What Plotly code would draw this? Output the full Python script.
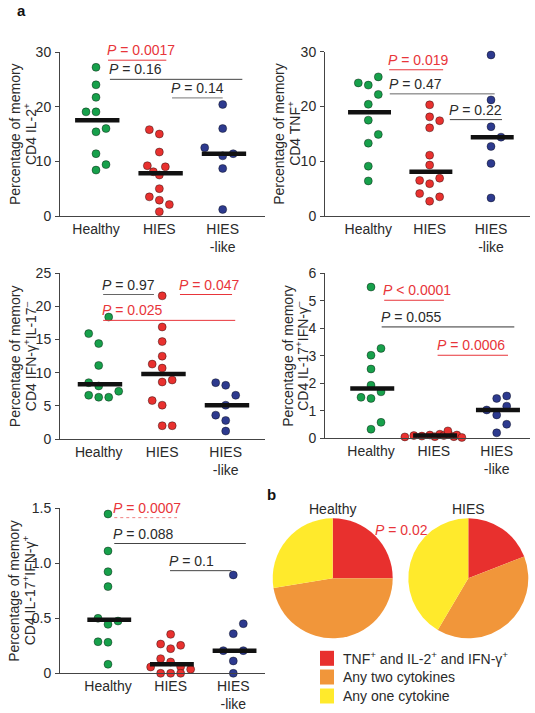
import numpy as np
import plotly.graph_objects as go

W, H = 535, 713

# ---------------- data ----------------
groups = ["Healthy", "HIES", "HIES-like"]
tick_text = ["Healthy", "HIES", "HIES<br>-like"]
dot_colors = ["#17A04B", "#E8312F", "#2D3A8E"]

# Panel 1: CD4 IL-2+
il2_healthy = [27.2, 24.0, 21.7, 19.05, 19.05, 15.4, 16.0, 11.4, 8.4, 9.4]
il2_hies = [15.8, 15.0, 11.7, 9.2, 9.0, 8.1, 7.5, 5.0, 3.5, 2.9, 2.1, 0.8]
il2_like = [20.4, 16.0, 12.5, 11.0, 11.4, 8.7, 1.2]
# Panel 2: CD4 TNF+
tnf_healthy = [24.3, 23.9, 25.4, 22.2, 20.4, 17.5, 14.9, 13.3, 9.1, 6.4]
tnf_hies = [20.3, 18.1, 16.1, 17.4, 11.1, 9.3, 6.5, 5.9, 6.9, 4.1, 2.7, 3.5]
tnf_like = [29.4, 21.2, 16.3, 12.7, 14.4, 9.6, 3.3]
# Panel 3: CD4 IFN-g+ IL-17-
ifng_healthy = [18.4, 15.9, 14.4, 11.1, 8.5, 8.0, 6.6, 6.3, 6.3, 7.2]
ifng_hies = [21.6, 16.9, 14.7, 12.5, 11.3, 10.7, 8.6, 8.9, 5.8, 5.1, 2.0, 2.0]
ifng_like = [8.5, 8.1, 6.6, 5.1, 3.6, 2.8, 1.2]
# Panel 4: CD4 IL-17+ IFN-g-
il17_healthy = [5.50, 3.02, 3.27, 2.52, 1.93, 1.49, 1.45, 1.69, 0.33, 0.58]
il17_hies = [0.05, 0.10, 0.08, 0.12, 0.06, 0.15, 0.10, 0.14, 0.06, 0.27, 0.12, 0.03]
il17_like = [1.45, 1.54, 1.17, 1.03, 0.85, 0.51, 0.20]
# Panel 5: CD4 IL-17+ IFN-g+
dp_healthy = [1.448, 1.112, 0.924, 0.788, 0.50, 0.445, 0.475, 0.287, 0.282, 0.082]
dp_hies = [0.354, 0.266, 0.254, 0.224, 0.133, 0.103, 0.057, 0.06, 0.036, 0.0, 0.0, 0.0]
dp_like = [0.894, 0.451, 0.36, 0.206, 0.206, 0.112, 0.0]

# P values
p_il2 = ["0.0017", "0.16", "0.14"]
p_tnf = ["0.019", "0.47", "0.22"]
p_ifng = ["0.97", "0.047", "0.025"]
p_il17 = ["< 0.0001", "0.055", "0.0006"]
p_dp = ["0.0007", "0.088", "0.1"]
p_pie = "0.02"

# Pie (panel b)
pie_labels = ["TNF<sup>+</sup> and IL-2<sup>+</sup> and IFN-γ<sup>+</sup>",
              "Any two cytokines", "Any one cytokine"]
pie_healthy = [25.0, 47.4, 27.6]
pie_hies = [19.1, 39.4, 41.5]
pie_colors = ["#E8302E", "#F1963A", "#FFEA2C"]

# ---------------- layout helpers (beeswarm offsets in dot widths) ----------------
il2_jit = [[0, 0, 0, -1, 0, 0, 1, 0, 0, 1],
           [-1, 0, 0, -1.2, 0.6, -0.6, 0, 0, -1, 0, 1, 0],
           [0, 0, -1.8, 0, 1.05, 0, 0]]
tnf_jit = [[-1, 0, 1, 1, 0, 0, 1, 0, 0, 0],
           [0, 0, 0, 1, 0, 0, -1, 0, 1, -1, 0, 1],
           [0, 0, 0, 0, 1, 0, 0]]
ifng_jit = [[1, -1, 0, 0, -1, 0, -1, 0, 1, 2],
            [0, 0, 0, 0, -1, 0, 0, 1, -1, 0, 0, 1],
            [-1, 0, 1, 0, -1, 0, 0]]
il17_jit = [[0, 0, 1, 0, 0, -1, 0, 1, 0, 1],
            [-2.9, -2, -1.2, -0.4, 0.1, 0.6, 1.0, 1.5, 2.0, 1.4, 2.3, 2.8],
            [0, 1, 1, -1, 0, 1, 0]]
dp_jit = [[0, 0, 0, 0, -1, 0, 1, -1, 0, 0],
          [0, -1, 1, 0, -1, 0, -2, 1, 2, -1, 0, 1],
          [0, 1, 0, -1, 1, 0, 0]]

RED = "#E8353A"
TXT = "#2a2a2a"
FONT = "Liberation Sans, Arial, Helvetica, sans-serif"
DOT_PITCH = 10.0  # px between neighbouring dots

panels = [
    dict(n="", vals=[il2_healthy, il2_hies, il2_like], jit=il2_jit,
         px=(60, 265, 96, 63.35), py=(216, 52), vmax=30, ticks=[0, 10, 20, 30],
         ticklab=["0", "10", "20", "30"], title="CD4 IL-2<sup>+</sup>", tx=(15, 30),
         pv=p_il2,
         br=[(0.19, 1.11, 28.5, RED, RED, "solid"), (0.22, 2.31, 25.0, TXT, "#444", "solid"),
             (1.20, 2.00, 21.6, TXT, "#777", "solid")]),
    dict(n="2", vals=[tnf_healthy, tnf_hies, tnf_like], jit=tnf_jit,
         px=(325, 530, 368.3, 61.35), py=(216, 51.7), vmax=30, ticks=[0, 10, 20, 30],
         ticklab=["0", "10", "20", "30"], title="CD4 TNF<sup>+</sup>", tx=(279, 294),
         pv=p_tnf,
         br=[(0.34, 1.22, 26.7, RED, RED, "solid"), (0.35, 2.06, 22.3, TXT, "#666", "solid"),
             (1.33, 2.18, 17.6, TXT, "#444", "solid")]),
    dict(n="3", vals=[ifng_healthy, ifng_hies, ifng_like], jit=ifng_jit,
         px=(60, 265, 98.7, 63.5), py=(439, 273.3), vmax=25, ticks=[0, 5, 10, 15, 20, 25],
         ticklab=["0", "5", "10", "15", "20", "25"],
         title="CD4 IFN-γ<sup>+</sup>IL-17<sup>–</sup>", tx=(15, 30),
         pv=p_ifng,
         br=[(0.07, 0.87, 21.8, TXT, "#666", "solid"), (1.28, 2.10, 21.8, RED, RED, "solid"),
             (0.07, 2.15, 17.9, RED, RED, "solid")]),
    dict(n="4", vals=[il17_healthy, il17_hies, il17_like], jit=il17_jit,
         px=(325, 530, 371, 62.85), py=(438.3, 273.3), vmax=6, ticks=[0, 1, 2, 3, 4, 5, 6],
         ticklab=["0", "1", "2", "3", "4", "5", "6"],
         title="CD4 IL-17<sup>+</sup>IFN-γ<sup>–</sup>", tx=(288, 302),
         pv=p_il17,
         br=[(0.21, 1.16, 5.02, RED, RED, "solid"), (0.17, 2.28, 4.05, TXT, "#333", "solid"),
             (1.06, 2.18, 3.02, RED, RED, "solid")]),
    dict(n="5", vals=[dp_healthy, dp_hies, dp_like], jit=dp_jit,
         px=(60, 265, 108, 62.65), py=(673.3, 508.3), vmax=1.5, ticks=[0, 0.5, 1.0, 1.5],
         ticklab=["0", "0.5", "1.0", "1.5"],
         title="CD4 IL-17<sup>+</sup>IFN-γ<sup>+</sup>", tx=(14, 28.5),
         pv=p_dp,
         br=[(0.10, 1.10, 1.415, RED, "#F08080", "dot"), (0.10, 2.20, 1.18, TXT, "#444", "solid"),
             (0.99, 1.97, 0.933, TXT, "#444", "solid")]),
]

fig = go.Figure()
shapes = []
annotations = []
layout = {}

for p in panels:
    n = p["n"]
    xa, ya = "x" + n, "y" + n
    px0, px1, c0, s = p["px"]
    pyb, pyt = p["py"]
    layout["xaxis" + n] = dict(
        domain=[px0 / W, px1 / W], range=[(px0 - c0) / s, (px1 - c0) / s],
        anchor=ya, showline=True, linecolor="#444", linewidth=1, ticks="",
        tickvals=[0, 1, 2], ticktext=tick_text, showgrid=False, zeroline=False,
        tickfont=dict(size=14, color=TXT), fixedrange=True, automargin=False)
    layout["yaxis" + n] = dict(
        domain=[1 - pyb / H, 1 - pyt / H], range=[0, p["vmax"]], anchor=xa,
        showline=True, linecolor="#444", linewidth=1, ticks="outside", ticklen=4,
        tickcolor="#444", tickvals=p["ticks"], ticktext=p["ticklab"], showgrid=False,
        zeroline=False, tickfont=dict(size=14, color=TXT), ticklabelstandoff=1,
        fixedrange=True, automargin=False)
    for i, (vals, jit) in enumerate(zip(p["vals"], p["jit"])):
        xs = i + np.array(jit) * DOT_PITCH / s
        fig.add_trace(go.Scatter(
            x=xs, y=vals, xaxis=xa, yaxis=ya, mode="markers", cliponaxis=False,
            marker=dict(size=8, color=dot_colors[i], line=dict(width=0.7, color="rgba(0,0,0,0.55)")),
            name=groups[i], showlegend=False))
    for i, vals in enumerate(p["vals"]):
        med = float(np.median(vals))
        fig.add_trace(go.Scatter(
            x=[i - 0.33, i + 0.37], y=[med, med], xaxis=xa, yaxis=ya, mode="lines",
            cliponaxis=False, line=dict(color="#111", width=4.5), showlegend=False,
            hoverinfo="skip"))
    # P-value brackets
    for (x0, x1, yv, tcol, lcol, dash), txt in zip(p["br"], p["pv"]):
        shapes.append(dict(type="line", xref=xa, yref=ya, x0=x0, x1=x1, y0=yv, y1=yv,
                           line=dict(color=lcol, width=1, dash=dash)))
        annotations.append(dict(xref=xa, yref=ya, x=x0, y=yv, xanchor="left",
                                yanchor="bottom", showarrow=False, xshift=-3,
                                text="<i>P</i> " + (txt if txt.startswith("<") else "= " + txt),
                                font=dict(size=14, color=tcol)))
    # y-axis titles (two lines)
    ymid = 1 - ((pyb + pyt) / 2) / H
    for xx, t in zip(p["tx"], ["Percentage of memory", p["title"]]):
        annotations.append(dict(xref="paper", yref="paper", x=xx / W, y=ymid,
                                xanchor="center", yanchor="middle", textangle=-90,
                                showarrow=False, text=t, font=dict(size=14, color=TXT)))

# ---------------- pies ----------------
for vals, cx, name in [(pie_healthy, 332.7, "Healthy"), (pie_hies, 468.3, "HIES")]:
    cy, r = 578.3, 60
    fig.add_trace(go.Pie(
        values=vals, labels=pie_labels, sort=False, direction="clockwise", rotation=0,
        marker=dict(colors=pie_colors, line=dict(width=0)), textinfo="none",
        showlegend=False, name=name,
        domain=dict(x=[(cx - r) / W, (cx + r) / W], y=[1 - (cy + r) / H, 1 - (cy - r) / H])))
    annotations.append(dict(xref="paper", yref="paper", x=cx / W, y=1 - 508.5 / H,
                            xanchor="center", yanchor="middle",
                            showarrow=False, text=name, font=dict(size=14, color=TXT)))

annotations.append(dict(xref="paper", yref="paper", x=401.5 / W, y=1 - 530 / H,
                        xanchor="center", yanchor="middle",
                        showarrow=False, text="<i>P</i> = " + p_pie,
                        font=dict(size=14, color=RED)))

# legend for pies
for k, (lab, col) in enumerate(zip(pie_labels, pie_colors)):
    yc = [658.3, 677.0, 696.0][k]
    shapes.append(dict(type="rect", xref="paper", yref="paper",
                       x0=320 / W, x1=334 / W, y0=1 - (yc + 7.5) / H, y1=1 - (yc - 7.5) / H,
                       fillcolor=col, line=dict(width=0)))
    annotations.append(dict(xref="paper", yref="paper", x=341 / W, y=1 - yc / H,
                            xanchor="left", yanchor="middle", showarrow=False, text=lab,
                            font=dict(size=14, color=TXT)))

# panel letters
annotations.append(dict(xref="paper", yref="paper", x=21.5 / W, y=1 - 10 / H, showarrow=False,
                        xanchor="center", yanchor="middle",
                        text="<b>a</b>", font=dict(size=15, color="#111")))
annotations.append(dict(xref="paper", yref="paper", x=271.5 / W, y=1 - 495 / H, showarrow=False,
                        xanchor="center", yanchor="middle",
                        text="<b>b</b>", font=dict(size=15, color="#111")))

fig.update_layout(
    width=W, height=H, margin=dict(l=0, r=0, t=0, b=0, pad=0, autoexpand=False),
    paper_bgcolor="white", plot_bgcolor="white",
    font=dict(family=FONT, size=14, color=TXT),
    shapes=shapes, annotations=annotations, showlegend=False, **layout)

fig.write_html(
    "out.html",
    config={"displayModeBar": False, "staticPlot": True},
    post_script="document.body.style.margin='0px';document.body.style.overflow='hidden';")
